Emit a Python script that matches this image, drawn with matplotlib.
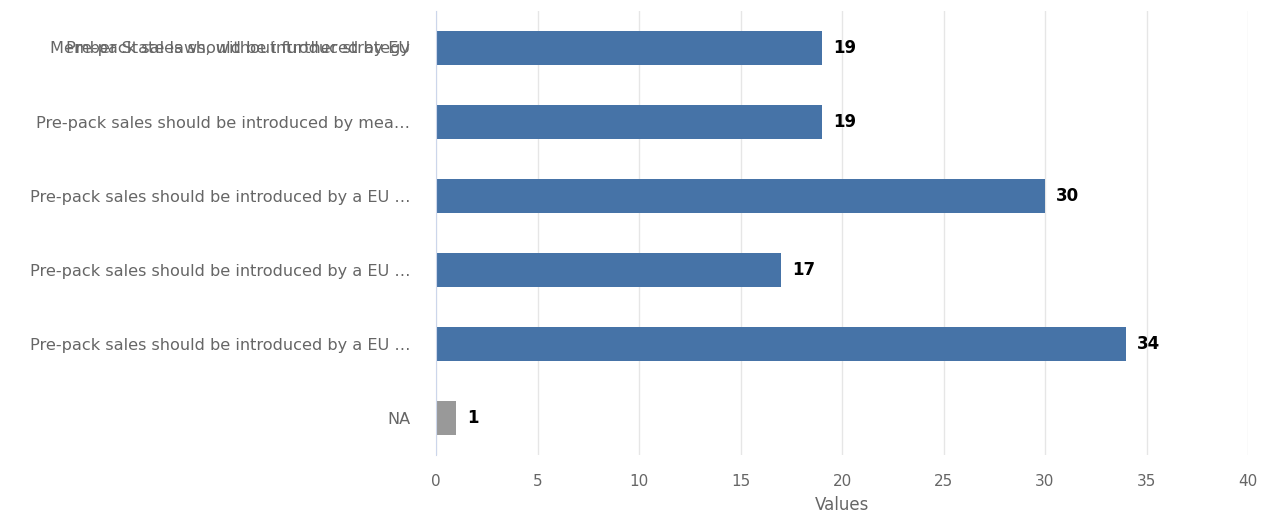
import matplotlib.pyplot as plt
import numpy as np

# answers, listed top to bottom
labels = ['',
          'Pre-pack sales should be introduced by mea\u2026',
          'Pre-pack sales should be introduced by a EU \u2026',
          'Pre-pack sales should be introduced by a EU \u2026',
          'Pre-pack sales should be introduced by a EU \u2026',
          'NA']
# the first answer's label was laid out as two lines printed on top of each other
top_label_lines = ['Pre-pack sales should be introduced by EU',
                   'Member State laws, without further strategy']
values = [19, 19, 30, 17, 34, 1]
colors = ['#4673a7', '#4673a7', '#4673a7', '#4673a7', '#4673a7', '#999999']
xticks = [0, 5, 10, 15, 20, 25, 30, 35, 40]

plt.rcParams['font.family'] = 'DejaVu Sans'

fig = plt.figure(figsize=(12.64, 5.18), dpi=100)
ax = fig.add_axes([436/1264, 1 - 455/518, 812/1264, 444/518])

y = np.arange(len(values))
ax.barh(y, values, height=0.46, color=colors, zorder=3)

for yi, v in zip(y, values):
    ax.annotate(str(v), (v, yi), xytext=(8, 0), textcoords='offset points',
                va='center', ha='left', fontsize=12, fontweight='bold', color='black')

ax.set_xlim(0, 40)
ax.set_ylim(len(values) - 0.5, -0.5)
ax.set_xticks(xticks)
ax.set_yticks(y)
ax.set_yticklabels(labels, fontsize=11.6, color='#666666')
ax.tick_params(axis='y', length=0, pad=18.5)
ax.tick_params(axis='x', length=0, pad=14, labelsize=11, labelcolor='#666666')

trans = ax.get_yaxis_transform()
for line in top_label_lines:
    ax.annotate(line, (0, 0), xycoords=trans, xytext=(-18.5, 0),
                textcoords='offset points', ha='right', va='center',
                fontsize=11.6, color='#666666')

ax.grid(axis='x', color='#e6e6e6', lw=1, zorder=0)
for s in ['top', 'right', 'bottom']:
    ax.spines[s].set_visible(False)
ax.spines['left'].set_color('#ccd6eb')
ax.spines['left'].set_zorder(4)

ax.set_xlabel('Values', fontsize=12, color='#666666', labelpad=5)

plt.savefig('out.png', dpi=100)
